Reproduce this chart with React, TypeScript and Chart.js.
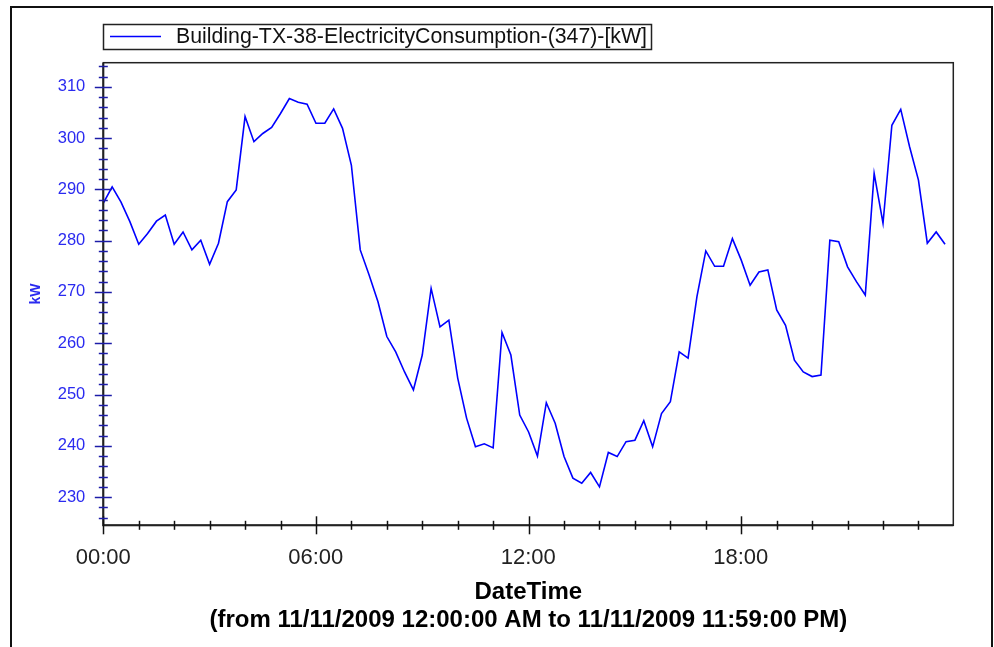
import React, { useEffect, useRef } from 'react';
import { Chart, registerables } from 'chart.js';

Chart.register(...registerables);

const seriesLabel = 'Building-TX-38-ElectricityConsumption-(347)-[kW]';
// 15-minute readings, 00:00 .. 23:45
const minutes = Array.from({ length: 96 }, (_, i) => i * 15);
const kw = [
  287.3, 290.5, 287.5, 283.7, 279.3, 281.4, 283.8, 285.0,
  279.3, 281.7, 278.2, 280.1, 275.4, 279.5, 287.6, 289.9,
  304.2, 299.3, 300.9, 302.1, 304.8, 307.7, 307.0, 306.6,
  302.9, 302.9, 305.7, 301.9, 294.7, 278.2, 273.3, 268.1,
  261.3, 258.3, 254.4, 250.9, 257.7, 270.7, 263.2, 264.5,
  253.2, 245.4, 239.8, 240.4, 239.6, 262.1, 257.7, 246.0,
  242.7, 238.0, 248.4, 244.4, 237.9, 233.7, 232.7, 234.8,
  232.0, 238.7, 237.9, 240.8, 241.1, 244.9, 239.8, 246.3,
  248.6, 258.3, 257.1, 269.1, 278.0, 275.0, 275.0, 280.4,
  276.2, 271.3, 273.9, 274.3, 266.5, 263.5, 256.7, 254.4,
  253.5, 253.8, 280.1, 279.8, 274.9, 272.0, 269.4, 293.1,
  283.4, 302.5, 305.6, 298.3, 291.8, 279.5, 281.7, 279.3,
];
const xTickLabels = ['00:00', '06:00', '12:00', '18:00'];
const xTitle = ['DateTime', '(from 11/11/2009 12:00:00 AM to 11/11/2009 11:59:00 PM)'];
const yTitle = 'kW';

const FONT = '"Liberation Sans", Arial, sans-serif';
const BLUE = '#0000ff';
const AXIS_BLUE = '#2a2af0';

const decorPlugin = {
  id: 'decor',
  beforeDraw(chart: any) {
    const { ctx, width, height } = chart;
    ctx.save();
    ctx.fillStyle = '#ffffff';
    ctx.fillRect(0, 0, width, height);
    // outer frame
    ctx.strokeStyle = '#111';
    ctx.lineWidth = 2;
    ctx.beginPath();
    ctx.moveTo(11, height);
    ctx.lineTo(11, 7);
    ctx.lineTo(992, 7);
    ctx.lineTo(992, height);
    ctx.stroke();
    ctx.restore();
  },
  afterDraw(chart: any) {
    const { ctx, chartArea } = chart;
    const xs = chart.scales.x;
    const ys = chart.scales.y;
    ctx.save();
    // plot frame
    ctx.strokeStyle = '#222';
    ctx.lineWidth = 1.5;
    ctx.strokeRect(chartArea.left, chartArea.top, chartArea.right - chartArea.left, chartArea.bottom - chartArea.top);
    ctx.lineWidth = 2;
    ctx.beginPath();
    ctx.moveTo(chartArea.left, chartArea.top);
    ctx.lineTo(chartArea.left, chartArea.bottom);
    ctx.lineTo(chartArea.right, chartArea.bottom);
    ctx.stroke();
    // x ticks (hourly minor, 6-hourly major)
    ctx.lineWidth = 1.5;
    ctx.strokeStyle = '#111';
    for (let m = 0; m < 1440; m += 60) {
      const px = Math.round(xs.getPixelForValue(m)) + 0.5;
      const major = m % 360 === 0;
      const h = major ? 9 : 4.5;
      ctx.beginPath();
      ctx.moveTo(px, chartArea.bottom - h);
      ctx.lineTo(px, chartArea.bottom + h);
      ctx.stroke();
    }
    // y ticks (minor every 2, major every 10)
    ctx.strokeStyle = '#1c1ca8';
    for (let v = 226; v <= 314; v += 2) {
      const py = Math.round(ys.getPixelForValue(v)) + 0.5;
      const major = v % 10 === 0;
      const w = major ? 8.5 : 4.5;
      ctx.beginPath();
      ctx.moveTo(chartArea.left - w, py);
      ctx.lineTo(chartArea.left + w, py);
      ctx.stroke();
    }
    // legend box
    const ds = chart.data.datasets[0];
    ctx.lineWidth = 1.5;
    ctx.strokeStyle = '#222';
    ctx.strokeRect(103.5, 24.5, 548, 25);
    ctx.strokeStyle = ds.borderColor;
    ctx.lineWidth = 1.5;
    ctx.beginPath();
    ctx.moveTo(110, 36.5);
    ctx.lineTo(161, 36.5);
    ctx.stroke();
    ctx.fillStyle = '#111';
    ctx.font = `21.3px ${FONT}`;
    ctx.textBaseline = 'middle';
    ctx.textAlign = 'left';
    ctx.fillText(ds.label, 176, 37);
    ctx.restore();
  },
};

export default function App() {
  const ref = useRef<HTMLCanvasElement | null>(null);
  useEffect(() => {
    if (!ref.current) return;
    const chart = new Chart(ref.current, {
      type: 'line',
      data: {
        datasets: [
          {
            label: seriesLabel,
            data: minutes.map((m, i) => ({ x: m, y: kw[i] })),
            borderColor: BLUE,
            borderWidth: 1.6,
            pointRadius: 0,
            tension: 0,
            fill: false,
          },
        ],
      },
      options: {
        animation: false,
        responsive: true,
        maintainAspectRatio: false,
        layout: { padding: { left: 20, right: 40.7, top: 62.7, bottom: 0 } },
        plugins: { legend: { display: false }, tooltip: { enabled: false } },
        scales: {
          x: {
            type: 'linear',
            min: 0,
            max: 1439,
            grid: { display: false, drawTicks: false },
            border: { display: false },
            ticks: {
              stepSize: 360,
              autoSkip: false,
              includeBounds: false,
              maxRotation: 0,
              padding: 19,
              color: '#222',
              font: { family: FONT, size: 22 },
              callback: (v: any) => xTickLabels[Math.round(v / 360)] ?? '',
            },
            title: {
              display: true,
              text: xTitle,
              color: '#000',
              font: { family: FONT, size: 24, weight: 'bold', lineHeight: 1.13 },
              padding: { top: 0, bottom: 13.5 },
            },
            afterFit: (s: any) => {
              s.height = 121.7;
            },
          },
          y: {
            type: 'linear',
            min: 224.5,
            max: 314.7,
            grid: { display: false, drawTicks: false },
            border: { display: false },
            ticks: {
              stepSize: 10,
              includeBounds: false,
              padding: 18,
              color: AXIS_BLUE,
              font: { family: FONT, size: 16.5 },
            },
            title: {
              display: true,
              text: yTitle,
              color: AXIS_BLUE,
              font: { family: FONT, size: 14, weight: 'bold' },
              padding: { top: 8, bottom: 0 },
            },
            afterFit: (s: any) => {
              s.width = 83.3;
            },
          },
        },
      },
      plugins: [decorPlugin],
    } as any);
    return () => chart.destroy();
  }, []);
  return (
    <div style={{ position: 'fixed', left: 0, top: 0, width: 994, height: 647, background: '#fff' }}>
      <canvas ref={ref} />
    </div>
  );
}
